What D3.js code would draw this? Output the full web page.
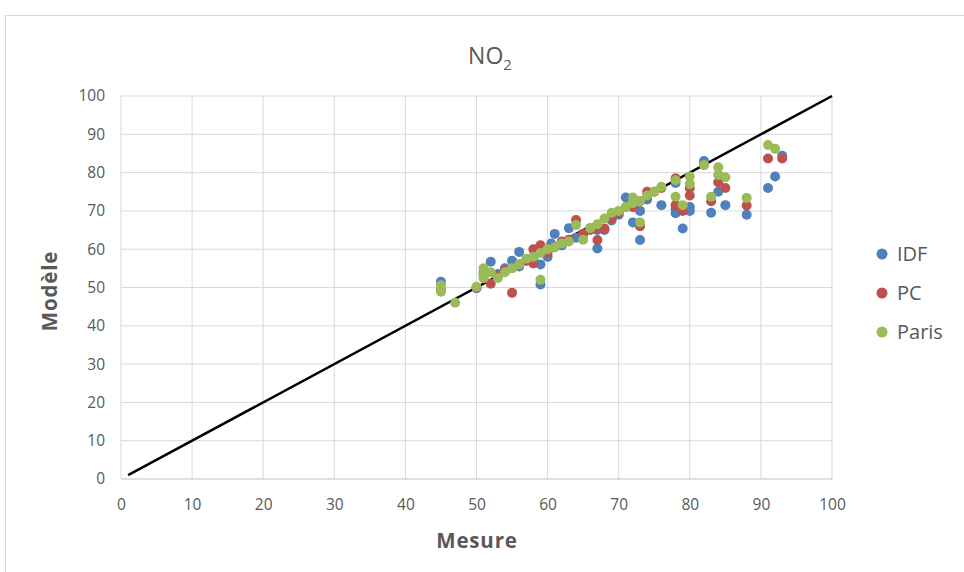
<!DOCTYPE html>
<html><head><meta charset="utf-8">
<script src="https://cdn.jsdelivr.net/npm/d3@7"></script>
<style>body{margin:0;background:#fff;}svg{display:block;}</style>
</head><body>
<script>
const xTicks = [0,10,20,30,40,50,60,70,80,90,100];
const yTicks = [0,10,20,30,40,50,60,70,80,90,100];
const seriesNames = ["IDF","PC","Paris"];
const seriesColors = ["#4F81BD","#C0504D","#9BBB59"];
const refLine = [[1,1],[100,100]];

const idfX = [45,50,51,52,53,54,55,56,56,57,58,59,59,60,60.5,61,62,63,64,65,66,67,67,68,69,70,71,72,72,73,73,74,76,78,78,78,79,80,80,82,83,84,85,88,91,92,93];
const idfY = [51.5,49.8,54,56.7,53.5,55,57,59.3,55.5,57,57.5,56,50.8,58,61.5,64,61,65.5,63,64,65.5,60.2,65,65,67.5,69,73.5,67,71,62.4,70,73,71.5,69.4,70.5,77.3,65.4,70,71,83,69.5,75,71.5,69,76,79,84.4];

const pcX = [45,50,51,52,53,54,55,56,57,58,58,59,60,61,62,63,64,65,66,67,67,68,69,70,71,72,73,73,74,75,76,78,78,79,80,80,82,83,84,85,88,91,93];
const pcY = [49.3,50,53,51,53,54.5,48.6,56,57,60,56.3,61,59,60.5,62,62.5,67.6,64,65,62.4,65.5,65.4,68,69.5,71,71,66,72.5,75,75,76,71.5,78.5,70,74,76,82,72.5,77.5,76,71.4,83.7,83.7];

const parisX = [45,45,47,50,51,51,51,52,53,54,55,56,57,58,59,59,60,61,62,63,64,65,66,67,68,69,70,71,72,72,73,73,74,75,76,78,78,79,80,80,82,83,84,84,85,88,91,92];
const parisY = [50.6,48.9,46,50.2,55,53.3,52.4,54,52.5,54,55,56,57.5,58,52,59,60,60.5,61.5,62,66.3,62.5,65.5,66.5,68,69.5,70,71,73.5,72,67,72.5,74,75,76.3,73.7,78,71.5,77,79,82,73.7,79.4,81.4,78.8,73.4,87.2,86.2];

const W = 964, H = 572;
const svg = d3.select("body").append("svg").attr("width", W).attr("height", H);
const font = "'Open Sans', 'Liberation Sans', sans-serif";

// chart border
svg.append("rect").attr("x",5.5).attr("y",15.5).attr("width",W+10).attr("height",H+10)
  .attr("fill","#fff").attr("stroke","#d9d9d9");

const x = d3.scaleLinear().domain([0,100]).range([121,832]);
const y = d3.scaleLinear().domain([0,100]).range([479,96]);

// gridlines
const g = svg.append("g");
g.selectAll(".vg").data(xTicks).join("line")
  .attr("x1",d=>x(d)).attr("x2",d=>x(d)).attr("y1",y(0)).attr("y2",y(100))
  .attr("stroke","#d9d9d9").attr("stroke-width",1);
g.selectAll(".hg").data(yTicks).join("line")
  .attr("y1",d=>y(d)).attr("y2",d=>y(d)).attr("x1",x(0)).attr("x2",x(100))
  .attr("stroke",d=>d===0?"#bfbfbf":"#d9d9d9").attr("stroke-width",1);

// axes labels via d3 axes (no domain/ticks)
const xAxis = svg.append("g").attr("transform",`translate(0,${y(0)})`)
  .call(d3.axisBottom(x).tickValues(xTicks).tickSize(0).tickPadding(20));
const yAxis = svg.append("g").attr("transform",`translate(${x(0)},0)`)
  .call(d3.axisLeft(y).tickValues(yTicks).tickSize(0).tickPadding(16));
[xAxis,yAxis].forEach(a=>{
  a.select(".domain").remove();
  a.selectAll("text").attr("font-family",font).attr("font-size",15.5).attr("fill","#595959");
});

// reference line
svg.append("path").datum(refLine)
  .attr("d", d3.line().x(d=>x(d[0])).y(d=>y(d[1])))
  .attr("stroke","#000").attr("stroke-width",2.5).attr("fill","none");

// points
const series = [[idfX,idfY],[pcX,pcY],[parisX,parisY]];
series.forEach((s,i)=>{
  const pts = s[0].map((v,j)=>[v,s[1][j]]);
  svg.append("g").selectAll("circle").data(pts).join("circle")
    .attr("cx",d=>x(d[0])).attr("cy",d=>y(d[1])).attr("r",5)
    .attr("fill",seriesColors[i]);
});

// title
const t = svg.append("text").attr("x",490).attr("y",64).attr("text-anchor","middle")
  .attr("font-family",font).attr("font-size",23).attr("fill","#595959");
t.append("tspan").text("NO");
t.append("tspan").attr("font-size",15).attr("dy",6).text("2");

// axis titles
svg.append("text").attr("x",477).attr("y",548).attr("text-anchor","middle")
  .attr("font-family",font).attr("font-size",20.5).attr("font-weight","bold").attr("letter-spacing",0.8).attr("fill","#595959").text("Mesure");
svg.append("text").attr("transform","translate(57,291) rotate(-90)").attr("text-anchor","middle")
  .attr("font-family",font).attr("font-size",20.5).attr("font-weight","bold").attr("letter-spacing",0.8).attr("fill","#595959").text("Modèle");

// legend
const lg = svg.append("g");
seriesNames.forEach((n,i)=>{
  const ly = 254 + i*39;
  lg.append("circle").attr("cx",882).attr("cy",ly).attr("r",5.5).attr("fill",seriesColors[i]);
  lg.append("text").attr("x",897).attr("y",ly+7).attr("font-family",font).attr("font-size",20)
    .attr("fill","#595959").text(n);
});
</script>
</body></html>
